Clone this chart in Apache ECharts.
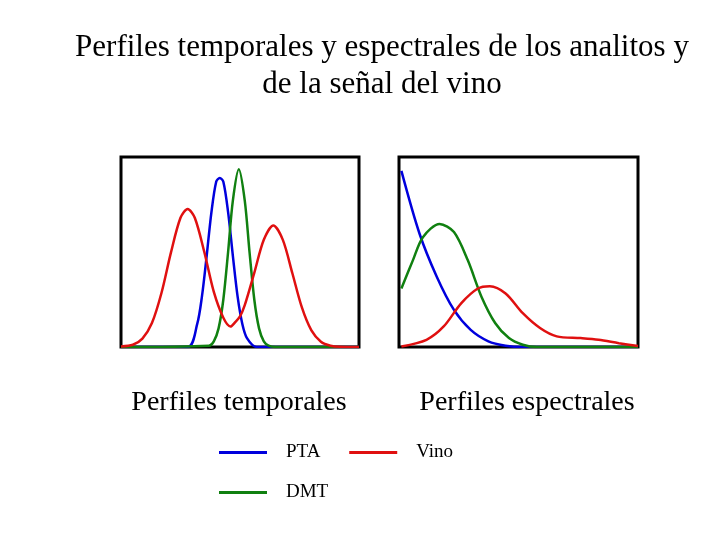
<!DOCTYPE html>
<html><head><meta charset="utf-8">
<script src="https://cdn.jsdelivr.net/npm/echarts@6/dist/echarts.min.js"></script>
<style>html,body{margin:0;background:#fff}#c{width:720px;height:540px}</style>
</head><body><div id="c"></div>
<script>
const seriesNames = ['PTA', 'DMT', 'Vino'];
const panelTitles = ['Perfiles temporales', 'Perfiles espectrales'];
// Temporal profiles [x, intensity]
const tempPTA = [[0,0],[28,0],[32,12],[34,26.5],[36,48],[38,71],[40,87],[41.5,89],[43,87],[45,71],[47,48],[49,26.5],[51,12],[53,4.5],[57,0],[100,0]];
const tempDMT = [[0,0],[37,0.7],[39,3],[41,9.8],[43,25],[45,50],[47,77],[49.5,93.5],[52,77],[54,50],[56,25],[58,9.8],[60,3],[62,0.7],[65,0],[100,0]];
const tempVino = [[0,0.3],[5,1.2],[9,4.4],[13,12.6],[17,28.4],[21,49.8],[25,68],[28,72.6],[31,68],[35,50],[39,29],[43,15.4],[46,10.8],[48,13.1],[50,16.1],[52,22],[56,39],[60,56.4],[64,64],[68,56.4],[72,38.8],[76,20.8],[80,8.7],[84,2.8],[88,0.7],[92,0.1],[100,0]];
// Spectral profiles [x, intensity]
const specPTA = [[1,92.7],[8.6,59.6],[15.8,37],[23,19.5],[30,9],[37.4,3],[44.6,0.7],[51.8,0],[100,0]];
const specDMT = [[1,30.8],[5.8,45.6],[10,57.8],[17,64.8],[23,60.5],[28.8,45.6],[34.5,26.5],[40.3,12.5],[46,4.7],[51.8,1.2],[57.6,0],[100,0]];
const specVino = [[1,0.3],[11.5,3.8],[18.7,10.8],[26,23],[33,30.8],[38,32],[44.6,28.2],[51.8,17.8],[59,10],[66,5.6],[76,4.7],[83.5,3.8],[92,2],[100,0.5]];

const colors = ['#0000dd', '#108010', '#e01010'];
const serif = 'Liberation Serif';
const axisOff = {show:false, min:0, max:100, type:'value'};
const yOff = {show:false, min:0, max:100, type:'value'};
const mk = (name, data, idx, c) => ({name, type:'line', data, xAxisIndex:idx, yAxisIndex:idx, symbol:'none', smooth:0.3, lineStyle:{width:2.5, color:c}, itemStyle:{color:c}, silent:true});
const chart = echarts.init(document.getElementById('c'));
chart.setOption({
  backgroundColor:'#fff',
  animation:false,
  title:[
    {text:'Perfiles temporales y espectrales de los analitos y\nde la señal del vino', left:377, top:24, textAlign:'center',
     textStyle:{fontFamily:serif, fontSize:31, fontWeight:'normal', color:'#000', lineHeight:37}},
    {text:panelTitles[0], left:234, top:384, textAlign:'center', textStyle:{fontFamily:serif, fontSize:28, fontWeight:'normal', color:'#000'}},
    {text:panelTitles[1], left:522, top:384, textAlign:'center', textStyle:{fontFamily:serif, fontSize:28, fontWeight:'normal', color:'#000'}}
  ],
  legend:{data:seriesNames, orient:'vertical', left:214, top:438, icon:'rect', itemWidth:48, itemHeight:3, itemGap:21,
    textStyle:{fontFamily:serif, fontSize:19, color:'#000', padding:[0,0,0,14]}},
  grid:[
    {left:121, top:157, width:238, height:190, show:true, borderColor:'#000', borderWidth:3, backgroundColor:'#fff'},
    {left:399, top:157, width:239, height:190, show:true, borderColor:'#000', borderWidth:3, backgroundColor:'#fff'}
  ],
  xAxis:[Object.assign({gridIndex:0}, axisOff), Object.assign({gridIndex:1}, axisOff)],
  yAxis:[Object.assign({gridIndex:0}, yOff), Object.assign({gridIndex:1}, yOff)],
  series:[
    mk(seriesNames[0], tempPTA, 0, colors[0]),
    mk(seriesNames[1], tempDMT, 0, colors[1]),
    mk(seriesNames[2], tempVino, 0, colors[2]),
    mk(seriesNames[0], specPTA, 1, colors[0]),
    mk(seriesNames[1], specDMT, 1, colors[1]),
    mk(seriesNames[2], specVino, 1, colors[2])
  ]
});
</script></body></html>
